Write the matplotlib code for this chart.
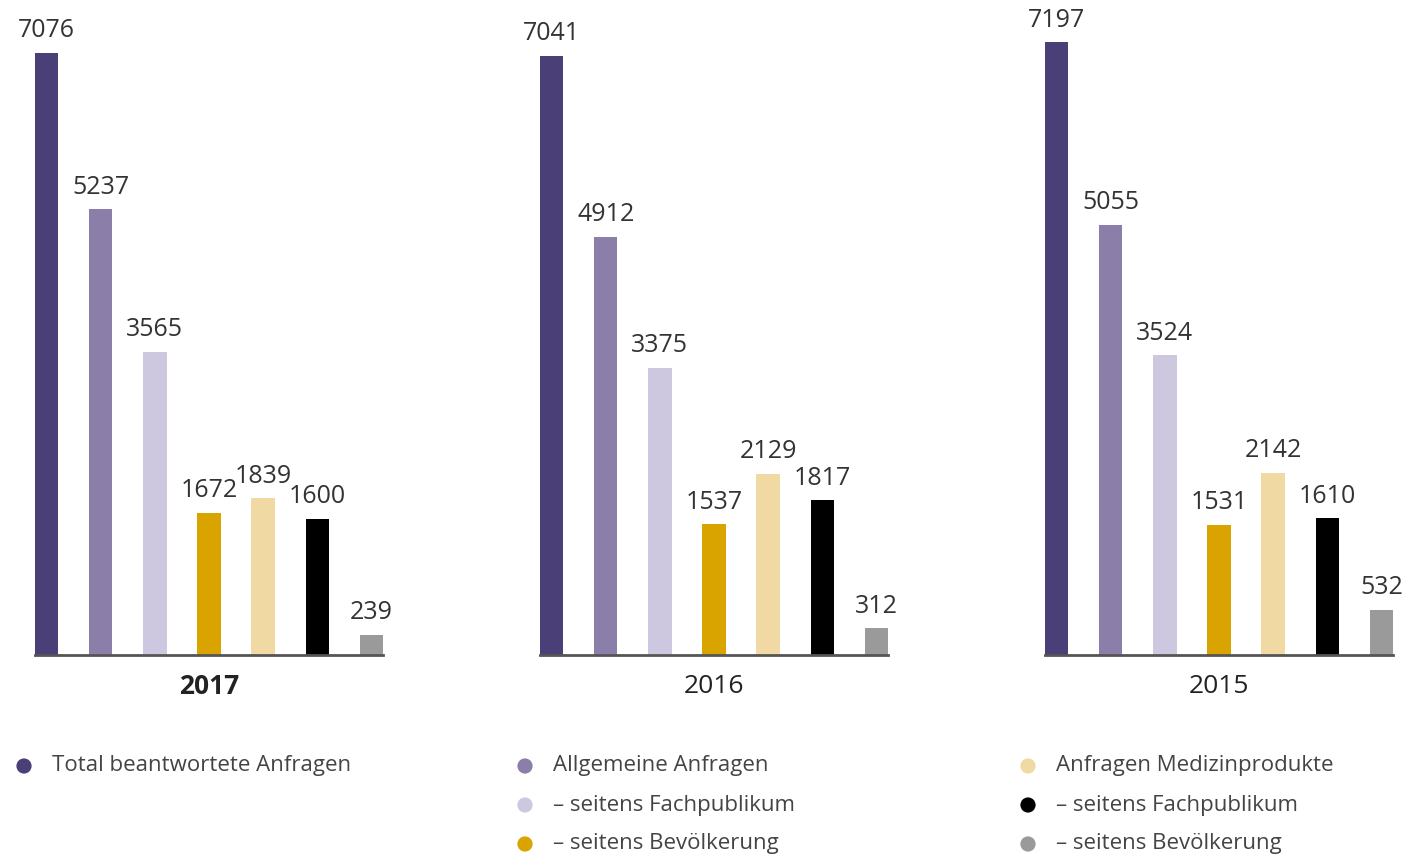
import numpy as np
import matplotlib
matplotlib.use("Agg")
import matplotlib.pyplot as plt

plt.rcParams["font.family"] = ["Open Sans", "DejaVu Sans"]

years = ["2017", "2016", "2015"]
series = [
    "Total beantwortete Anfragen",
    "Allgemeine Anfragen",
    "– seitens Fachpublikum",
    "– seitens Bevölkerung",
    "Anfragen Medizinprodukte",
    "– seitens Fachpublikum",
    "– seitens Bevölkerung",
]
values_2017 = [7076, 5237, 3565, 1672, 1839, 1600, 239]
values_2016 = [7041, 4912, 3375, 1537, 2129, 1817, 312]
values_2015 = [7197, 5055, 3524, 1531, 2142, 1610, 532]
colors = ["#4b3f78", "#8b7faa", "#cdc7df", "#d9a400", "#f0d9a2", "#000000", "#9a9a9a"]

W, H = 1412, 857
fig = plt.figure(figsize=(W / 100, H / 100), dpi=100)

base_px = 655
top_px = 8
ymax = 7600
panel_left = [35, 540, 1045]
panel_w = 348
bw = 0.43
x = np.arange(len(series))

for i, (yr, vals) in enumerate(zip(years, [values_2017, values_2016, values_2015])):
    ax = fig.add_axes([panel_left[i] / W, (H - base_px) / H, panel_w / W, (base_px - top_px) / H])
    ax.bar(x, vals, width=bw, color=colors)
    for xi, v in zip(x, vals):
        ax.text(xi, v + 110, str(v), ha="center", va="bottom", fontsize=18, color="#333333")
    ax.set_xlim(-bw / 2, len(series) - 1 + bw / 2)
    ax.set_ylim(0, ymax)
    for s in ["top", "right", "left"]:
        ax.spines[s].set_visible(False)
    ax.spines["bottom"].set_color("#555555")
    ax.spines["bottom"].set_linewidth(2)
    ax.set_xticks([])
    ax.set_yticks([])
    ax.text(0.5, -0.048, yr, transform=ax.transAxes, ha="center", va="center",
            fontsize=19, color="#222222", fontweight="bold" if i == 0 else "normal")

# legend
lax = fig.add_axes([0, 0, 1, 1])
lax.set_xlim(0, W)
lax.set_ylim(H, 0)
lax.axis("off")
leg_pos = [(24, 766), (525, 766), (525, 805), (525, 844), (1028, 766), (1028, 805), (1028, 844)]
for (lx, ly), lab, c in zip(leg_pos, series, colors):
    lax.scatter([lx], [ly], s=120, color=c, edgecolors="none")
    lax.text(lx + 28, ly, lab, ha="left", va="center", fontsize=16, color="#444444")

plt.savefig("out.png", dpi=100)
